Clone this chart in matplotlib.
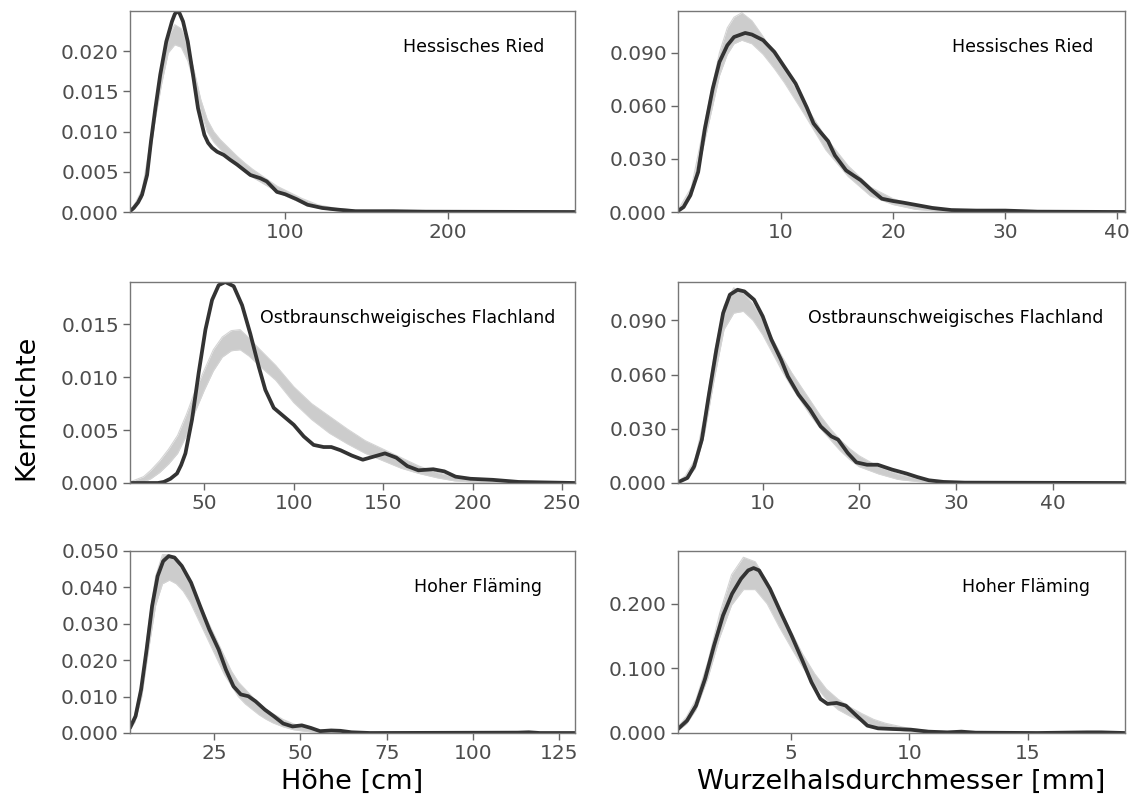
import matplotlib
matplotlib.use("Agg")
import matplotlib.pyplot as plt
from matplotlib.ticker import FormatStrFormatter

# Hessisches Ried - Hoehe
hr_h_obs_x = [4.5, 6.8, 9.5, 11.9, 15, 17.4, 20.1, 23.1, 26.8, 30.3, 32.0, 33.4, 35.0, 37.1, 40, 43.2,
              46.3, 50.2, 52.5, 54.9, 58, 62.1, 66, 70.3, 78.5, 84.6, 88.6, 94.8, 100, 106.8, 113.6,
              122.7, 131.8, 143, 166, 186, 278]
hr_h_obs_y = [0.0001, 0.0005, 0.0012, 0.00215, 0.0046, 0.0088, 0.0129, 0.0171, 0.0212, 0.0237, 0.0246,
              0.0250, 0.0247, 0.0237, 0.0212, 0.0171, 0.0129, 0.0096, 0.0086, 0.0080, 0.0075, 0.0071,
              0.0065, 0.0059, 0.0046, 0.0042, 0.0038, 0.0025, 0.0022, 0.0016, 0.0009, 0.0005, 0.0003,
              0.0001, 0.0001, 0.00004, 0.0]
hr_h_sim_x = [4.5, 8, 12, 16, 20, 24, 28, 32, 36, 40, 44, 48, 52, 56, 60, 65, 70, 75, 80, 85, 90, 95, 100,
              110, 120, 130, 145, 170, 278]
hr_h_sim_hi = [0.0002, 0.0012, 0.0028, 0.0075, 0.0130, 0.0180, 0.0218, 0.0233, 0.0228, 0.0207, 0.0175,
               0.0140, 0.0115, 0.0100, 0.0090, 0.0080, 0.0070, 0.0061, 0.0053, 0.0046, 0.0039, 0.0032,
               0.0027, 0.0017, 0.0009, 0.0005, 0.0002, 0.0001, 0.0]
hr_h_sim_lo = [0.0, 0.0007, 0.0018, 0.0060, 0.0115, 0.0160, 0.0198, 0.0208, 0.0205, 0.0188, 0.0160,
               0.0125, 0.0100, 0.0087, 0.0078, 0.0067, 0.0058, 0.0050, 0.0043, 0.0037, 0.0031, 0.0025,
               0.0020, 0.0011, 0.0005, 0.0002, 0.0, 0.0, 0.0]

# Hessisches Ried - Wurzelhalsdurchmesser
hr_w_obs_x = [0.8, 1.3, 1.9, 2.6, 3.2, 3.9, 4.5, 5.2, 5.8, 6.8, 7.4, 8.4, 9.4, 10.3, 11.3, 12.3, 12.9,
              13.5, 14.2, 14.8, 15.8, 16.5, 17.1, 18.1, 19.0, 20.0, 20.9, 22.2, 23.5, 25.2, 27.4, 30,
              32.9, 40.7]
hr_w_obs_y = [0.0006, 0.0028, 0.0094, 0.0226, 0.0471, 0.0697, 0.0847, 0.0941, 0.0988, 0.1011, 0.1002,
              0.0970, 0.0904, 0.0819, 0.0725, 0.0590, 0.0500, 0.0452, 0.0400, 0.0320, 0.0235, 0.0205,
              0.0180, 0.0122, 0.0075, 0.0062, 0.0053, 0.0038, 0.0023, 0.0011, 0.0008, 0.0008, 0.0002, 0.0]
hr_w_sim_x = [0.8, 2, 3, 3.9, 4.5, 5.2, 5.8, 6.5, 7.4, 8.4, 9.4, 10.3, 12, 14, 16, 18, 20, 22, 24, 27, 32, 40.7]
hr_w_sim_hi = [0.001, 0.014, 0.045, 0.072, 0.090, 0.104, 0.110, 0.1125, 0.108, 0.099, 0.089, 0.080,
               0.062, 0.042, 0.026, 0.014, 0.0075, 0.0035, 0.0015, 0.0005, 0.0, 0.0]
hr_w_sim_lo = [0.0003, 0.009, 0.035, 0.060, 0.077, 0.089, 0.095, 0.097, 0.095, 0.089, 0.081, 0.073,
               0.056, 0.035, 0.020, 0.009, 0.0042, 0.0015, 0.0005, 0.0, 0.0, 0.0]

# Ostbraunschweigisches Flachland - Hoehe
of_h_obs_x = [8.4, 24, 27.3, 31, 34.7, 37, 39.4, 43.1, 46.8, 50.6, 54.3, 58.0, 61.7, 66.4, 71.1, 75.7,
              80.4, 84.1, 88.8, 94.4, 100, 105.6, 111.1, 116.7, 121, 126.1, 132.4, 138.6, 144.8, 151,
              157.3, 163.5, 169.7, 178, 184.2, 190.5, 198.8, 211.3, 225.8, 257.3]
of_h_obs_y = [0.0, 0.0, 0.0001, 0.0004, 0.0009, 0.0017, 0.0028, 0.0060, 0.0104, 0.0145, 0.0173, 0.0187,
              0.0190, 0.0186, 0.0168, 0.0141, 0.0110, 0.0088, 0.0071, 0.0063, 0.0055, 0.0044, 0.0036,
              0.0034, 0.0034, 0.0031, 0.0026, 0.0022, 0.0025, 0.0028, 0.0024, 0.0016, 0.0012, 0.0013,
              0.0011, 0.0006, 0.0004, 0.0003, 0.0001, 0.0]
of_h_sim_x = [8.4, 16, 20, 25, 30, 35, 40, 45, 50, 55, 60, 65, 70, 75, 80, 90, 100, 110, 120, 130, 140,
              150, 160, 170, 180, 190, 200, 215, 230, 257.3]
of_h_sim_hi = [0.0001, 0.0006, 0.0012, 0.0021, 0.0032, 0.0045, 0.0065, 0.0088, 0.0107, 0.0126, 0.0138,
               0.0144, 0.0145, 0.0137, 0.0128, 0.0111, 0.0091, 0.0075, 0.0063, 0.0051, 0.0040, 0.0032,
               0.0024, 0.0016, 0.0010, 0.0006, 0.0003, 0.0001, 0.00003, 0.0]
of_h_sim_lo = [0.0, 0.0001, 0.0004, 0.0010, 0.0018, 0.0028, 0.0045, 0.0068, 0.0088, 0.0106, 0.0119,
               0.0125, 0.0126, 0.0120, 0.0112, 0.0097, 0.0076, 0.0060, 0.0047, 0.0037, 0.0028, 0.0021,
               0.0014, 0.0009, 0.0005, 0.0002, 0.0001, 0.0, 0.0, 0.0]

# Ostbraunschweigisches Flachland - Wurzelhalsdurchmesser
of_w_obs_x = [1.23, 2.2, 2.9, 3.7, 4.4, 5.2, 5.9, 6.6, 7.4, 8.1, 9.1, 10, 10.9, 11.9, 12.6, 13.7, 14.9,
              16, 17.1, 17.8, 18.8, 19.7, 20.8, 21.9, 23.4, 24.9, 26.0, 27.2, 28.7, 30.9, 47.5]
of_w_obs_y = [0.0004, 0.0028, 0.0092, 0.0240, 0.0479, 0.0738, 0.0940, 0.1042, 0.1069, 0.1060, 0.1014,
              0.0922, 0.0793, 0.0682, 0.0590, 0.0489, 0.0406, 0.0313, 0.0258, 0.0240, 0.0166, 0.0114,
              0.0101, 0.0101, 0.0074, 0.0052, 0.0033, 0.0015, 0.0006, 0.0002, 0.0]
of_w_sim_x = [1.23, 2, 3, 4, 5, 6, 7, 8, 9, 10, 11, 12, 13, 14, 15, 16, 17, 18, 19, 20, 22, 24, 26, 28,
              30, 47.5]
of_w_sim_hi = [0.001, 0.004, 0.013, 0.038, 0.072, 0.098, 0.108, 0.105, 0.099, 0.090, 0.080, 0.070,
               0.061, 0.053, 0.045, 0.037, 0.030, 0.024, 0.019, 0.015, 0.009, 0.005, 0.0025, 0.001,
               0.0003, 0.0]
of_w_sim_lo = [0.0003, 0.002, 0.008, 0.028, 0.058, 0.085, 0.094, 0.095, 0.090, 0.082, 0.072, 0.062,
               0.053, 0.045, 0.037, 0.030, 0.024, 0.018, 0.013, 0.009, 0.005, 0.002, 0.0008, 0.0002,
               0.0, 0.0]

# Hoher Flaeming - Hoehe
hf_h_obs_x = [0.59, 2.2, 3.8, 5.4, 7.0, 8.6, 10.2, 11.8, 13.5, 15.6, 18.3, 20.9, 23.6, 26.3, 28.4, 30.6,
              32.7, 34.9, 37.0, 39.7, 42.3, 45.0, 47.7, 50.4, 53.0, 55.7, 58.9, 61.6, 64.8, 70.2, 113,
              116.2, 119.4, 129.6]
hf_h_obs_y = [0.0014, 0.0046, 0.0119, 0.0229, 0.0349, 0.0431, 0.0472, 0.0486, 0.0482, 0.0459, 0.0413,
              0.0349, 0.0284, 0.0229, 0.0174, 0.0128, 0.0106, 0.0101, 0.0087, 0.0064, 0.0046, 0.0026,
              0.0018, 0.0021, 0.0014, 0.0005, 0.0007, 0.0006, 0.0002, 0.0, 0.0001, 0.0002, 0.0, 0.0]
hf_h_sim_x = [0.59, 2, 4, 6, 8, 10, 12, 14, 16, 18, 20, 22, 24, 26, 28, 30, 32, 34, 36, 38, 40, 42, 45,
              48, 51, 55, 60, 65, 70, 129.6]
hf_h_sim_hi = [0.002, 0.005, 0.014, 0.030, 0.043, 0.049, 0.049, 0.047, 0.044, 0.041, 0.037, 0.033,
               0.029, 0.025, 0.021, 0.017, 0.014, 0.012, 0.010, 0.008, 0.0066, 0.0053, 0.0037, 0.0025,
               0.0017, 0.0010, 0.0005, 0.0002, 0.0, 0.0]
hf_h_sim_lo = [0.001, 0.003, 0.010, 0.023, 0.035, 0.041, 0.042, 0.041, 0.039, 0.036, 0.032, 0.028,
               0.024, 0.020, 0.016, 0.013, 0.010, 0.008, 0.0065, 0.005, 0.0038, 0.0028, 0.0017, 0.0009,
               0.0005, 0.0002, 0.0, 0.0, 0.0, 0.0]

# Hoher Flaeming - Wurzelhalsdurchmesser
hf_w_obs_x = [0.24, 0.62, 1.0, 1.38, 1.76, 2.14, 2.52, 2.9, 3.2, 3.43, 3.66, 4.12, 4.57, 5.03, 5.49, 5.87,
              6.25, 6.55, 6.93, 7.32, 7.77, 8.23, 8.68, 9.29, 10.06, 10.8, 11.6, 12.2, 12.8, 15.4, 17.5,
              18.1, 19.1]
hf_w_obs_y = [0.0062, 0.0191, 0.0424, 0.0837, 0.1354, 0.1819, 0.2155, 0.2388, 0.2517, 0.2553, 0.2517,
              0.2233, 0.1871, 0.1509, 0.1121, 0.0786, 0.0527, 0.0450, 0.0465, 0.0424, 0.0269, 0.0114,
              0.0072, 0.0062, 0.0052, 0.0021, 0.0010, 0.0021, 0.0005, 0.0, 0.001, 0.001, 0.0]
hf_w_sim_x = [0.24, 0.6, 1.0, 1.5, 2.0, 2.5, 3.0, 3.5, 4.0, 4.5, 5.0, 5.5, 6.0, 6.5, 7.0, 7.5, 8.0, 8.5,
              9.0, 10.0, 11.0, 12.0, 13, 19.1]
hf_w_sim_hi = [0.010, 0.025, 0.052, 0.110, 0.185, 0.245, 0.272, 0.265, 0.235, 0.195, 0.158, 0.122,
               0.092, 0.068, 0.052, 0.040, 0.030, 0.021, 0.015, 0.007, 0.003, 0.0015, 0.0005, 0.0]
hf_w_sim_lo = [0.004, 0.014, 0.036, 0.085, 0.148, 0.198, 0.222, 0.222, 0.200, 0.165, 0.133, 0.102,
               0.075, 0.052, 0.036, 0.026, 0.018, 0.011, 0.007, 0.002, 0.0005, 0.0, 0.0, 0.0]

region_names = ["Hessisches Ried", "Ostbraunschweigisches Flachland", "Hoher Fläming"]
xlabels = ["Höhe [cm]", "Wurzelhalsdurchmesser [mm]"]

panels = [
    (hr_h_obs_x, hr_h_obs_y, hr_h_sim_x, hr_h_sim_lo, hr_h_sim_hi, (4.5, 278), 0.0250,
     [0, 0.005, 0.01, 0.015, 0.02], [100, 200], (0.773, 0.82)),
    (hr_w_obs_x, hr_w_obs_y, hr_w_sim_x, hr_w_sim_lo, hr_w_sim_hi, (0.8, 40.7), 0.1135,
     [0, 0.03, 0.06, 0.09], [10, 20, 30, 40], (0.770, 0.82)),
    (of_h_obs_x, of_h_obs_y, of_h_sim_x, of_h_sim_lo, of_h_sim_hi, (8.4, 257.3), 0.0190,
     [0, 0.005, 0.01, 0.015], [50, 100, 150, 200, 250], (0.625, 0.82)),
    (of_w_obs_x, of_w_obs_y, of_w_sim_x, of_w_sim_lo, of_w_sim_hi, (1.23, 47.5), 0.1112,
     [0, 0.03, 0.06, 0.09], [10, 20, 30, 40], (0.622, 0.82)),
    (hf_h_obs_x, hf_h_obs_y, hf_h_sim_x, hf_h_sim_lo, hf_h_sim_hi, (0.59, 129.6), 0.0500,
     [0, 0.01, 0.02, 0.03, 0.04, 0.05], [25, 50, 75, 100, 125], (0.782, 0.80)),
    (hf_w_obs_x, hf_w_obs_y, hf_w_sim_x, hf_w_sim_lo, hf_w_sim_hi, (0.24, 19.1), 0.2817,
     [0, 0.1, 0.2], [5, 10, 15], (0.779, 0.80)),
]

W, H = 1132, 801
fig = plt.figure(figsize=(W / 100, H / 100), dpi=100)

col_x = [(130, 445), (678, 447)]
row_y = [(11, 212), (282, 483), (551, 733)]

for i, p in enumerate(panels):
    obs_x, obs_y, sim_x, sim_lo, sim_hi, xlim, ytop, yticks, xticks, txt = p
    r, c = divmod(i, 2)
    x0, w = col_x[c]
    top, bot = row_y[r]
    ax = fig.add_axes([x0 / W, 1 - bot / H, w / W, (bot - top) / H])

    # simulated densities as grey band, observed density as dark line
    ax.fill_between(sim_x, sim_lo, sim_hi, color="#cccccc", lw=0)
    ax.plot(sim_x, sim_hi, color="#d4d4d4", lw=0.8)
    ax.plot(sim_x, sim_lo, color="#d4d4d4", lw=0.8)
    ax.plot(obs_x, obs_y, color="#333333", lw=2.7, solid_capstyle="round", solid_joinstyle="round")

    ax.set_xlim(*xlim)
    ax.set_ylim(0, ytop)
    ax.set_yticks(yticks)
    ax.set_xticks(xticks)
    ax.yaxis.set_major_formatter(FormatStrFormatter("%.3f"))
    ax.xaxis.set_major_formatter(FormatStrFormatter("%d"))
    ax.tick_params(labelsize=14.5, length=5, width=1, pad=3, colors="#666666", labelcolor="#4d4d4d")
    for s in ax.spines.values():
        s.set_color("#777777")
        s.set_linewidth(1.0)
    ax.text(txt[0], txt[1], region_names[r], transform=ax.transAxes, ha="center", va="center",
            fontsize=12.5, color="black")
    if r == 2:
        ax.set_xlabel(xlabels[c], fontsize=19.5, labelpad=4)

fig.text(26 / W, 1 - 407 / H, "Kerndichte", rotation=90, ha="center", va="center", fontsize=19.5)

fig.savefig("out.png", dpi=100)
